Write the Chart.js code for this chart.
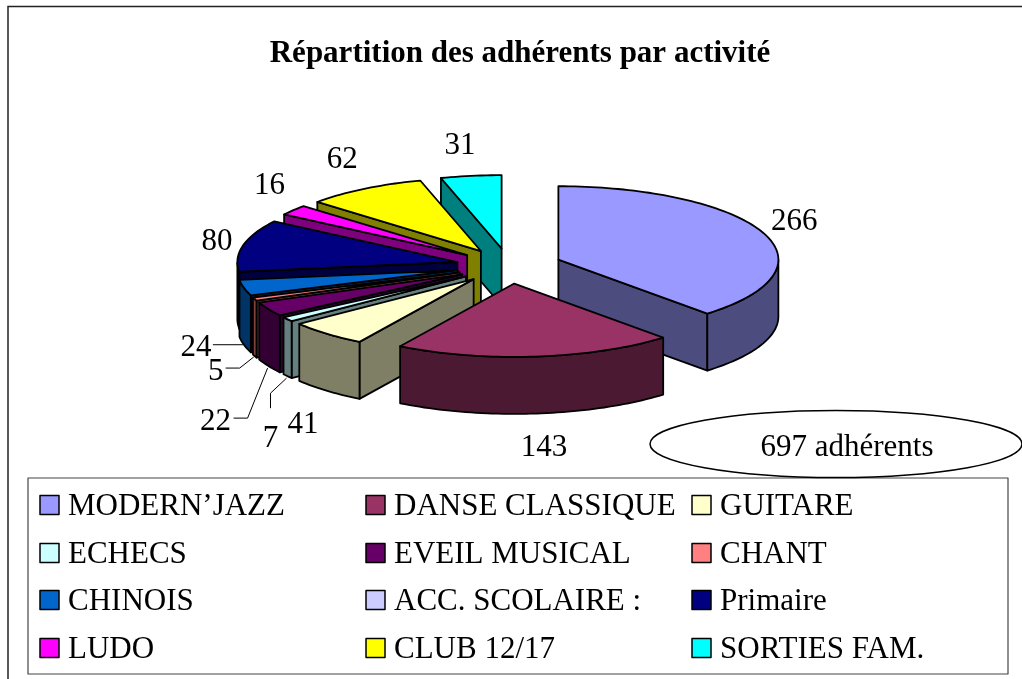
<!DOCTYPE html>
<html><head><meta charset="utf-8">
<style>html,body{margin:0;padding:0;background:#fff;overflow:hidden}canvas{display:block}</style>
<script src="https://cdn.jsdelivr.net/npm/chart.js@4"></script>
</head><body>
<div style="width:1022px;height:679px;position:relative"><canvas id="c" width="1022" height="679"></canvas></div>
<script>
const categories = ["MODERN’JAZZ","DANSE CLASSIQUE","GUITARE","ECHECS","EVEIL MUSICAL","CHANT","CHINOIS","ACC. SCOLAIRE :","Primaire","LUDO","CLUB 12/17","SORTIES FAM."];
const values = [266,143,41,7,22,5,24,0,80,16,62,31];
const colors = ["#9999FF","#993366","#FFFFCC","#CCFFFF","#660066","#FF8080","#0066CC","#CCCCFF","#000080","#FF00FF","#FFFF00","#00FFFF"];
const chartTitle = "Répartition des adhérents par activité";
const totalNote = "697 adhérents";

// presentation settings (not data)
const SERIF = '"Liberation Serif","Times New Roman",serif';
const RADIUS = 220, EXPLODE = 53, DEPTH = 57, TILT = 1/3, PIE_X = 509, PIE_Y = 266;
const labelNudge = [[31,-11],[8,91],[-24,91],[-17,120],[-53,113],[-39,73],[-48,60],null,[-26,-4],[-24,-24],[-22,-29],[-11,-30]];
const leaders = {3:[[-1,59],[-17,74],[-17,89]],4:[[-1,59],[-21,109],[-35,109]],5:[[-1,58],[-15,69],[-29,69]],6:[[-1,57],[-31,57]]};
const legendCols = [40,366,692], legendRows = [505,553,600,648];

function half(hex){const n=parseInt(hex.slice(1),16);return `rgb(${(n>>16)>>1},${((n>>8)&255)>>1},${(n&255)>>1})`;}

const pie3d = {
  id:'pie3d',
  beforeDraw(chart){
    const ctx=chart.ctx;ctx.save();
    ctx.strokeStyle='#222';ctx.lineWidth=1.5;
    ctx.beginPath();ctx.moveTo(8,679);ctx.lineTo(8,6.5);ctx.lineTo(1022,6.5);ctx.stroke();
    ctx.restore();
  },
  beforeDatasetsDraw(chart){
    const ctx=chart.ctx, arcs=chart.getDatasetMeta(0).data;
    const order=arcs.map((a,i)=>i).filter(i=>values[i]>0);
    const scr=(a,th,r)=>{ // chart-space polar point of an exploded slice -> screen
      const m=(a.startAngle+a.endAngle)/2;
      const x=EXPLODE*Math.cos(m)+r*Math.cos(th), y=EXPLODE*Math.sin(m)+r*Math.sin(th);
      return [PIE_X+x, PIE_Y+y*TILT];
    };
    const apexY=i=>scr(arcs[i],0,0)[1];
    order.sort((p,q)=>apexY(p)-apexY(q));
    ctx.save();ctx.lineJoin='round';
    const angles=a=>{const n=Math.max(2,Math.ceil((a.endAngle-a.startAngle)*40)),out=[];
      for(let t=0;t<=n;t++)out.push(a.startAngle+(a.endAngle-a.startAngle)*t/n);
      return out;};
    for(const i of order){
      const a=arcs[i],side=half(colors[i]),R=a.outerRadius;
      const ths=angles(a),top=ths.map(th=>scr(a,th,R));
      const A=scr(a,0,0),S=top[0],E=top[top.length-1];
      ctx.fillStyle=side;ctx.strokeStyle='#000';ctx.lineWidth=1.8;
      // cut faces: only those turned towards the viewer
      const cut=P=>{ctx.beginPath();ctx.moveTo(A[0],A[1]);ctx.lineTo(P[0],P[1]);ctx.lineTo(P[0],P[1]+DEPTH);ctx.lineTo(A[0],A[1]+DEPTH);ctx.closePath();ctx.fill();ctx.stroke();};
      if(Math.cos(a.startAngle)<-1e-6)cut(S);
      if(Math.cos(a.endAngle)>1e-6)cut(E);
      // outer rim: the front-facing run of the arc as one shape
      const front=[];
      for(let k=0;k<top.length-1;k++) if(Math.sin((ths[k]+ths[k+1])/2)>0) front.push(k);
      if(front.length){
        const f0=front[0],f1=front[front.length-1]+1;
        ctx.beginPath();ctx.moveTo(top[f0][0],top[f0][1]);
        for(let k=f0+1;k<=f1;k++)ctx.lineTo(top[k][0],top[k][1]);
        for(let k=f1;k>=f0;k--)ctx.lineTo(top[k][0],top[k][1]+DEPTH);
        ctx.closePath();ctx.fill();ctx.stroke();
      }
      // top face: the library's own arc, in a tilted, exploded frame
      const m=(a.startAngle+a.endAngle)/2;
      ctx.save();
      ctx.translate(PIE_X,PIE_Y);ctx.scale(1,TILT);
      ctx.translate(EXPLODE*Math.cos(m),EXPLODE*Math.sin(m));
      ctx.translate(-a.x,-a.y);
      a.draw(ctx);
      ctx.restore();
      ctx.beginPath();ctx.moveTo(A[0],A[1]);top.forEach(p=>ctx.lineTo(p[0],p[1]));ctx.closePath();ctx.stroke();
    }
    // value labels
    ctx.fillStyle='#000';ctx.font='31px '+SERIF;ctx.textAlign='center';ctx.textBaseline='middle';
    arcs.forEach((a,i)=>{
      if(!values[i])return;
      const m=(a.startAngle+a.endAngle)/2,R=RADIUS+EXPLODE;
      const bx=PIE_X+R*Math.cos(m),by=PIE_Y+R*Math.sin(m)*TILT;
      const n=labelNudge[i];
      ctx.fillText(String(values[i]),bx+n[0],by+n[1]);
      if(leaders[i]){ctx.lineWidth=1;ctx.strokeStyle='#000';ctx.beginPath();
        leaders[i].forEach((p,k)=>k?ctx.lineTo(bx+p[0],by+p[1]):ctx.moveTo(bx+p[0],by+p[1]));ctx.stroke();}
    });
    // legend box
    ctx.strokeStyle='#444';ctx.lineWidth=1.2;ctx.fillStyle='#fff';
    ctx.beginPath();ctx.rect(28,478,980,196);ctx.fill();ctx.stroke();
    ctx.textAlign='left';
    categories.forEach((name,i)=>{
      const x=legendCols[i%3],y=legendRows[Math.floor(i/3)];
      ctx.fillStyle=colors[i];ctx.strokeStyle='#000';ctx.lineWidth=1.5;
      ctx.fillRect(x,y-9.5,19,19);ctx.strokeRect(x,y-9.5,19,19);
      ctx.fillStyle='#000';ctx.fillText(name,x+28,y+2);
    });
    // total note
    ctx.fillStyle='#fff';ctx.strokeStyle='#000';ctx.lineWidth=1.5;
    ctx.beginPath();ctx.ellipse(836,444,186,33.5,0,0,Math.PI*2);ctx.fill();ctx.stroke();
    ctx.fillStyle='#000';ctx.textAlign='center';ctx.fillText(totalNote,847,448);
    ctx.restore();
    return false;
  }
};

new Chart(document.getElementById('c'),{
  type:'pie',
  data:{labels:categories,datasets:[{data:values,backgroundColor:colors,borderWidth:0,offset:0,radius:RADIUS}]},
  options:{
    responsive:false,animation:false,events:[],
    radius:RADIUS,
    layout:{padding:{left:247,right:229,top:0,bottom:20}},
    plugins:{
      legend:{display:false},tooltip:{enabled:false},
      title:{display:true,text:chartTitle,fullSize:false,color:'#000',font:{family:SERIF,size:31,weight:'bold'},padding:{top:35,bottom:10}}
    }
  },
  plugins:[pie3d]
});
</script>
</body></html>
